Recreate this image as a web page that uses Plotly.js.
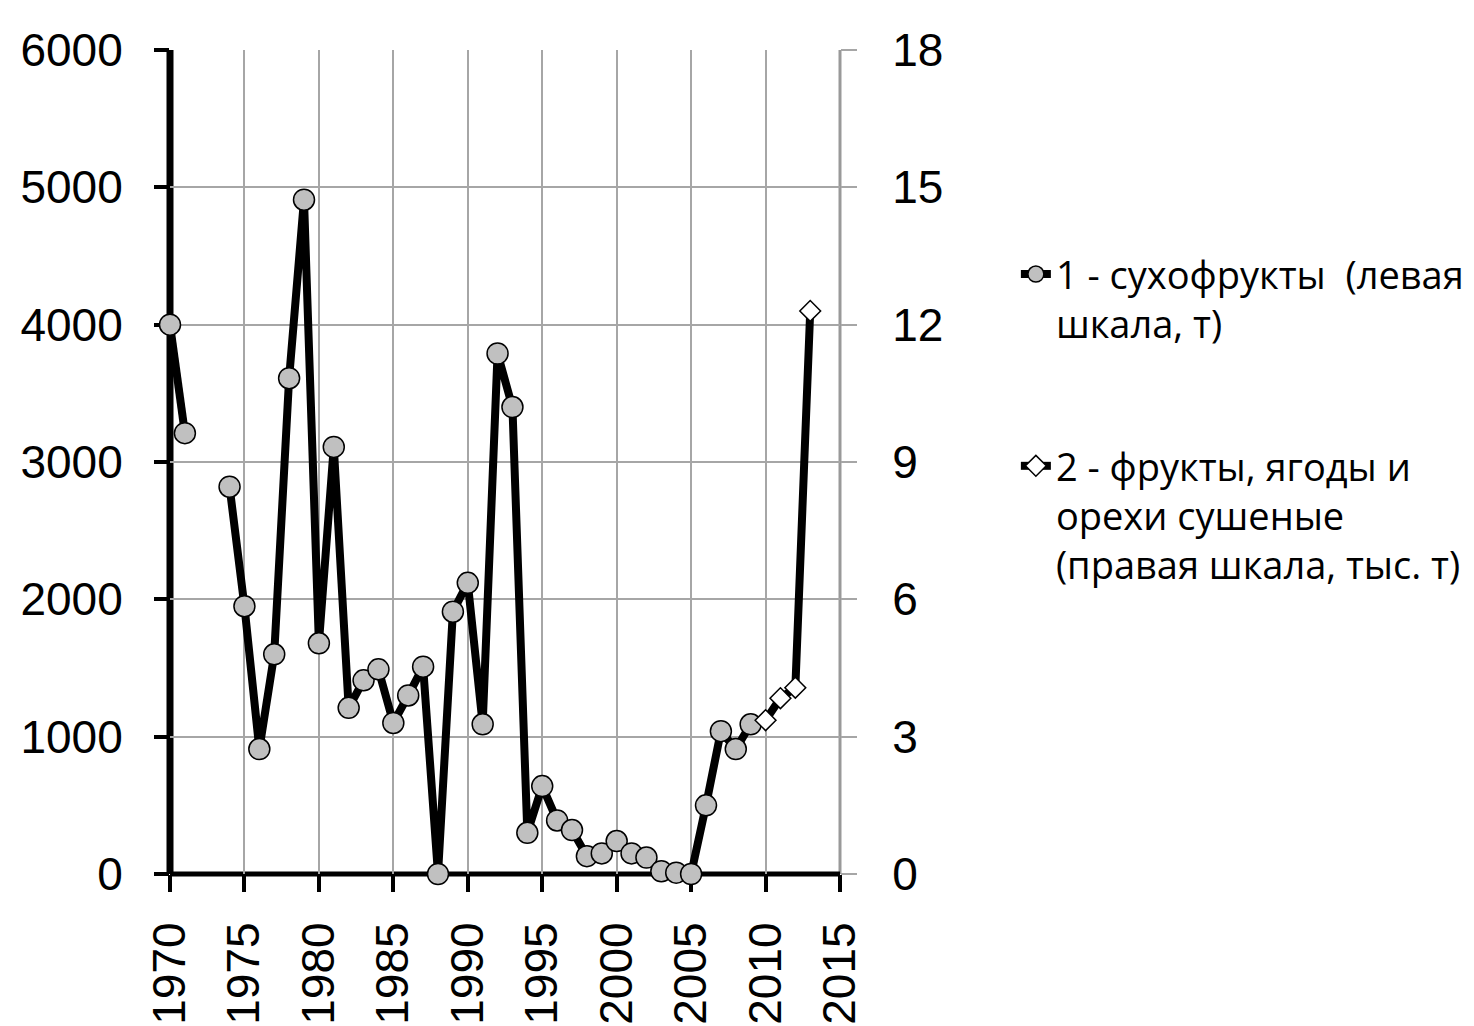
<!DOCTYPE html>
<html>
<head>
<meta charset="utf-8">
<script src="https://cdn.plot.ly/plotly-3.0.1.min.js"></script>
<style>html,body{margin:0;padding:0;background:#fff;}#chart{width:1474px;height:1026px;}</style>
</head>
<body>
<div id="chart"></div>
<script>
// Series 1: сухофрукты, t (left axis)
var years1 = [1970,1971,1972,1973,1974,1975,1976,1977,1978,1979,1980,1981,1982,1983,1984,1985,1986,1987,1988,1989,1990,1991,1992,1993,1994,1995,1996,1997,1998,1999,2000,2001,2002,2003,2004,2005,2006,2007,2008,2009];
var values1 = [4000,3210,null,null,2820,1950,910,1600,3610,4910,1680,3110,1210,1410,1490,1100,1300,1510,0,1910,2120,1090,3790,3400,300,640,390,320,130,150,240,150,120,20,10,0,500,1040,910,1090];
// Series 2: фрукты, ягоды и орехи сушеные, thousand t (right axis)
var years2 = [2010,2011,2012,2013];
var values2 = [3.36,3.84,4.07,12.3];

var name1 = '1 - сухофрукты\u00a0 (левая<br>шкала, т)';
var name2 = '2 - фрукты, ягоды и<br>орехи сушеные<br>(правая шкала, тыс. т)';

var leftTicks = [0,1000,2000,3000,4000,5000,6000];
var rightTicks = [0,3,6,9,12,15,18];
var xTicks = [1970,1975,1980,1985,1990,1995,2000,2005,2010,2015];

var axisFont = {family: 'Liberation Sans, Arial, sans-serif', size: 46, color: '#000'};
var xFont = {family: 'Liberation Sans, Arial, sans-serif', size: 46, color: '#000'};
var gridColor = '#a6a6a6';

var traces = [
  {
    x: years1, y: values1, name: name1, type: 'scatter', mode: 'lines+markers',
    yaxis: 'y', connectgaps: false, cliponaxis: false, legendgroup: 'g1',
    line: {color: '#000', width: 8},
    marker: {symbol: 'circle', size: 21, color: '#c0c0c0', line: {color: '#000', width: 1.5}}
  },
  {
    x: years2, y: values2, name: name2, type: 'scatter', mode: 'lines+markers',
    yaxis: 'y2', cliponaxis: false, legendgroup: 'g2',
    line: {color: '#000', width: 8},
    marker: {symbol: 'diamond', size: 16, color: '#fff', line: {color: '#000', width: 1.5}}
  }
];

var layout = {
  width: 1474, height: 1026,
  margin: {l: 170, r: 634, t: 50, b: 152, autoexpand: false},
  paper_bgcolor: '#fff', plot_bgcolor: 'rgba(0,0,0,0)',
  showlegend: true,
  legend: {
    x: 1.2625, y: 0.766, xanchor: 'left', yanchor: 'top',
    font: {family: 'Open Sans, sans-serif', size: 38, color: '#000'},
    valign: 'top', tracegroupgap: 90, traceorder: 'grouped',
    bgcolor: 'rgba(0,0,0,0)', borderwidth: 0
  },
  shapes: [
    // right frame line (grey)
    {type: 'line', xref: 'paper', yref: 'paper', x0: 1, x1: 1, y0: 0, y1: 1,
     line: {color: '#999', width: 3}, layer: 'below'},
    // left axis line (black, centred on the first year)
    {type: 'line', xref: 'paper', yref: 'paper', x0: 0, x1: 0, y0: 0, y1: 1,
     line: {color: '#000', width: 7}, layer: 'below'},
    // bottom axis line (black, centred on zero)
    {type: 'line', xref: 'paper', yref: 'paper', x0: 0, x1: 1, y0: 0, y1: 0,
     line: {color: '#000', width: 5}, layer: 'below'}
  ],
  xaxis: {
    range: [xTicks[0], xTicks[xTicks.length - 1]], tickvals: xTicks, ticktext: xTicks.map(String),
    tickangle: -90, tickfont: xFont,
    ticks: 'outside', ticklen: 17, tickwidth: 4, tickcolor: '#000',
    ticklabelstandoff: 12,
    showline: false, showgrid: false,
    minor: {tickmode: 'array', tickvals: xTicks.slice(1), showgrid: true, gridcolor: gridColor, gridwidth: 2, ticks: ''},
    zeroline: false, layer: 'below traces', fixedrange: true
  },
  yaxis: {
    range: [leftTicks[0], leftTicks[leftTicks.length - 1]], tickvals: leftTicks, ticktext: leftTicks.map(String),
    tickfont: axisFont,
    ticks: 'outside', ticklen: 15, tickwidth: 4, tickcolor: '#000',
    ticklabelstandoff: 22,
    showline: false, showgrid: false,
    minor: {tickmode: 'array', tickvals: leftTicks.slice(1), showgrid: true, gridcolor: gridColor, gridwidth: 2, ticks: ''},
    zeroline: false, layer: 'below traces', fixedrange: true
  },
  yaxis2: {
    overlaying: 'y', side: 'right', anchor: 'x',
    range: [rightTicks[0], rightTicks[rightTicks.length - 1]], tickvals: rightTicks, ticktext: rightTicks.map(String),
    tickfont: axisFont,
    ticks: 'outside', ticklen: 16, tickwidth: 2, tickcolor: gridColor,
    ticklabelstandoff: 26,
    showline: false,
    showgrid: false, zeroline: false, layer: 'below traces', fixedrange: true
  }
};

Plotly.newPlot('chart', traces, layout, {staticPlot: true, displayModeBar: false});
</script>
</body>
</html>
